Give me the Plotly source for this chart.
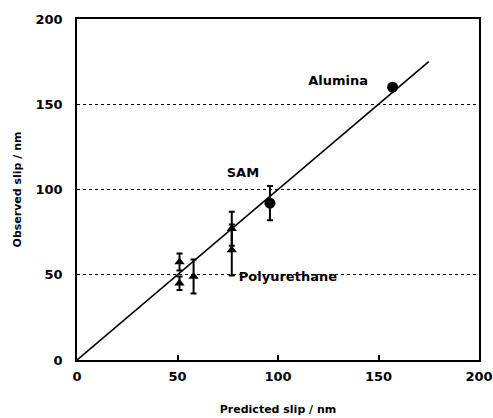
import plotly.graph_objects as go

# Data
tri_x = [51, 51, 58, 77, 77]
tri_y = [57.5, 45, 49, 77, 64.5]
tri_err = [5, 4, 10, 10, 15]

circ_x = [96, 157]
circ_y = [92, 160]
circ_err = [10, 2]

line_x = [0, 175]
line_y = [0, 175]

labels = ["Alumina", "SAM", "Polyurethane"]
label_x = [115, 74.5, 80.5]
label_y = [163, 109.5, 48]

font_fam = "DejaVu Sans, Arial, sans-serif"

fig = go.Figure()
fig.add_trace(go.Scatter(x=line_x, y=line_y, mode="lines",
                         line=dict(color="black", width=1.6), showlegend=False))
fig.add_trace(go.Scatter(x=tri_x, y=tri_y, mode="markers",
                         marker=dict(symbol="triangle-up", size=9, color="black"),
                         error_y=dict(type="data", array=tri_err, color="black",
                                      thickness=2, width=3),
                         showlegend=False))
fig.add_trace(go.Scatter(x=circ_x, y=circ_y, mode="markers",
                         marker=dict(symbol="circle", size=11, color="black"),
                         error_y=dict(type="data", array=circ_err, color="black",
                                      thickness=2, width=3),
                         showlegend=False))
fig.add_trace(go.Scatter(x=label_x, y=label_y, mode="text", text=labels,
                         textposition="middle right",
                         textfont=dict(family=font_fam, size=13, color="black", weight="bold"),
                         showlegend=False))

fig.update_layout(
    width=493, height=418,
    margin=dict(l=77, r=14, t=19, b=58),
    paper_bgcolor="white", plot_bgcolor="white",
    font=dict(family=font_fam, color="black"),
    xaxis=dict(range=[0, 200], tickvals=[0, 50, 100, 150, 200], automargin=False,
               showgrid=False, zeroline=False,
               showline=True, mirror=True, linecolor="black", linewidth=1.5,
               ticks="inside", ticklen=5, tickcolor="black", tickwidth=1.5,
               ticklabelstandoff=4,
               tickfont=dict(size=13, weight="bold", color="black"),
               title=dict(text="Predicted slip / nm",
                          font=dict(size=11, weight="bold", color="black"),
                          standoff=22)),
    yaxis=dict(range=[0, 200], tickvals=[0, 50, 100, 150, 200], automargin=False,
               showgrid=True, gridcolor="black", griddash="dot", gridwidth=1.2,
               zeroline=False,
               showline=True, mirror=True, linecolor="black", linewidth=1.5,
               ticks="", tickfont=dict(size=13, weight="bold", color="black"),
               ticklabelstandoff=10,
               title=dict(text="Observed slip / nm",
                          font=dict(size=11, weight="bold", color="black"),
                          standoff=12)),
)

fig.write_html("out.html",
               config={"displayModeBar": False},
               post_script="document.body.style.margin='0';document.body.style.overflow='hidden';")
